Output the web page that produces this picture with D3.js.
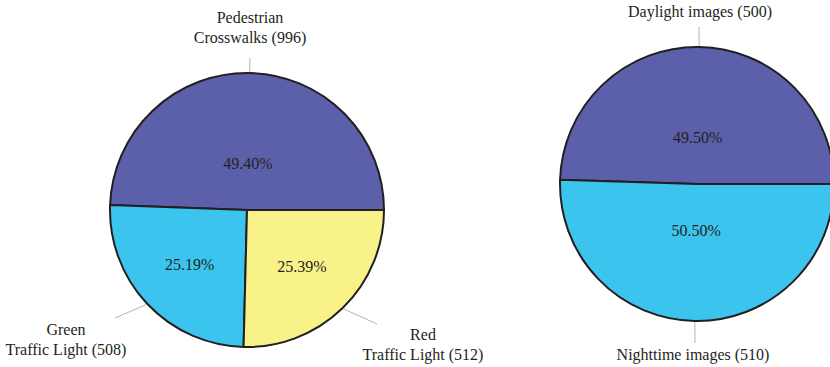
<!DOCTYPE html>
<html>
<head>
<meta charset="utf-8">
<script src="https://cdn.jsdelivr.net/npm/d3@7"></script>
<style>
  body { margin: 0; background: #fff; }
  svg text { font-family: "Liberation Serif", "Times New Roman", serif; font-size: 16px; fill: #231f20; }
</style>
</head>
<body>
<div id="chart"></div>
<script>
// left pie: traffic objects
var signCategories = ["Pedestrian\nCrosswalks (996)", "Green\nTraffic Light (508)", "Red\nTraffic Light (512)"];
var signCounts     = [996, 508, 512];
var signPercents   = [49.40, 25.19, 25.39];

// right pie: lighting
var lightCategories = ["Daylight images (500)", "Nighttime images (510)"];
var lightCounts     = [500, 510];
var lightPercents   = [49.50, 50.50];

var colors = ["#5c5fa9", "#3bc4ee", "#f8f288"];

var width = 830, height = 367, radius = 137;

var svg = d3.select("#chart").append("svg")
  .attr("width", width)
  .attr("height", height);

// label layout, offsets from the pie centre: leader end and text anchor (centre x, last baseline)
var signLayout = [
  {line: [3, -152], text: [3, -167]},
  {line: [-132, 108], text: [-181, 145]},
  {line: [130, 114], text: [176, 150]}
];
var lightLayout = [
  {line: [2, -157], text: [3, -167]},
  {line: [-2, 159], text: [-4, 176]}
];

function drawPie(cx, cy, counts, percents, names, layout) {

  var pie = d3.pie()
    .sort(null)
    .value(function(d) { return d; })
    .startAngle(Math.PI / 2)
    .endAngle(Math.PI / 2 - 2 * Math.PI);

  var arc = d3.arc().innerRadius(0).outerRadius(radius);

  var g = svg.append("g")
    .attr("transform", "translate(" + cx + "," + cy + ")");

  var arcs = pie(counts);

  g.selectAll("path.slice")
    .data(arcs)
    .enter().append("path")
    .attr("class", "slice")
    .attr("d", arc)
    .attr("fill", function(d, i) { return colors[i]; })
    .attr("stroke", "#231f20")
    .attr("stroke-width", 2)
    .attr("stroke-linejoin", "round");

  // percentage labels inside the slices
  g.selectAll("text.pct")
    .data(arcs)
    .enter().append("text")
    .attr("class", "pct")
    .attr("text-anchor", "middle")
    .attr("dy", "0.35em")
    .attr("transform", function(d) {
      var span = Math.abs(d.endAngle - d.startAngle);
      var k = span > Math.PI * 0.9 ? 0.34 : 0.575;
      var a = (d.startAngle + d.endAngle) / 2;
      return "translate(" + (Math.sin(a) * radius * k) + "," + (-Math.cos(a) * radius * k) + ")";
    })
    .text(function(d, i) { return percents[i].toFixed(2) + "%"; });

  // leader lines from the rim
  g.selectAll("line.leader")
    .data(arcs)
    .enter().append("line")
    .attr("class", "leader")
    .attr("x1", function(d) { return Math.sin((d.startAngle + d.endAngle) / 2) * (radius + 1); })
    .attr("y1", function(d) { return -Math.cos((d.startAngle + d.endAngle) / 2) * (radius + 1); })
    .attr("x2", function(d, i) { return layout[i].line[0]; })
    .attr("y2", function(d, i) { return layout[i].line[1]; })
    .attr("stroke", "#b4b4b4")
    .attr("stroke-width", 1);

  // outer category labels
  var lbl = g.selectAll("text.name")
    .data(arcs)
    .enter().append("text")
    .attr("class", "name")
    .attr("text-anchor", "middle")
    .attr("transform", function(d, i) { return "translate(" + layout[i].text[0] + "," + layout[i].text[1] + ")"; });

  lbl.each(function(d, i) {
    var lines = names[i].split("\n");
    var t = d3.select(this);
    lines.forEach(function(s, j) {
      t.append("tspan")
        .attr("x", 0)
        .attr("y", (j - lines.length + 1) * 20)
        .text(s);
    });
  });
}

drawPie(247, 210, signCounts, signPercents, signCategories, signLayout);
drawPie(697, 184, lightCounts, lightPercents, lightCategories, lightLayout);
</script>
</body>
</html>
